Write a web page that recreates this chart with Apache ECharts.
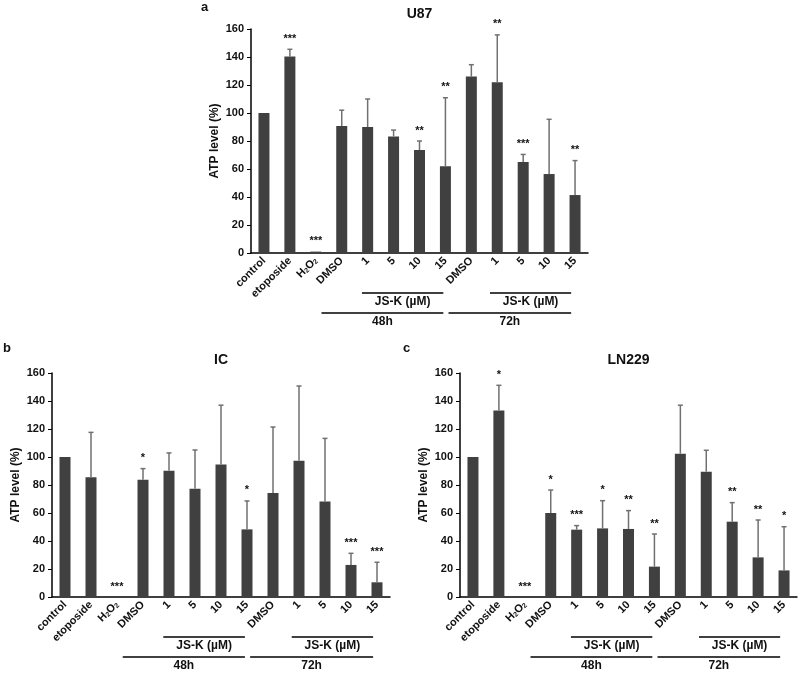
<!DOCTYPE html>
<html>
<head>
<meta charset="utf-8">
<script src="https://cdn.jsdelivr.net/npm/echarts@6/dist/echarts.min.js"></script>
<style>
html,body{margin:0;padding:0;background:#fff;}
#chart{width:798px;height:674px;}
</style>
</head>
<body>
<div id="chart"></div>
<script>
// ---- data ----
const categories = ['control','etoposide','H2O2','DMSO','1','5','10','15','DMSO','1','5','10','15'];
const yTicks = [0, 20, 40, 60, 80, 100, 120, 140, 160];

const u87Mean = [100, 140.4, 1, 90.7, 90, 83.3, 73.5, 62, 126, 122, 65, 56.4, 41.4];
const u87Sd   = [0, 5.1, 0, 11.3, 20, 4.5, 6.5, 48.9, 8.5, 33.8, 5.4, 39.1, 24.6];
const u87Stars = ['', '***', '***', '', '', '', '**', '**', '', '**', '***', '', '**'];

const icMean = [100, 85.5, 0, 83.8, 90.2, 77.4, 94.6, 48.3, 74.3, 97.4, 68.3, 22.9, 10.5];
const icSd   = [0, 32.1, 0, 7.9, 12.7, 27.6, 42.4, 20.3, 47.1, 53.3, 45, 8.3, 14.3];
const icStars = ['', '', '***', '*', '', '', '', '*', '', '', '', '***', '***'];

const lnMean = [100, 133.3, 0, 60, 48.1, 49, 48.6, 21.7, 102.4, 89.5, 53.8, 28.3, 19];
const lnSd   = [0, 17.9, 0, 16.4, 2.9, 19.8, 13.1, 23.3, 34.6, 15.3, 13.6, 26.7, 31.2];
const lnStars = ['', '*', '***', '*', '***', '*', '**', '**', '', '', '**', '**', '*'];

const panelTitles = ['U87', 'IC', 'LN229'];
const panelLetters = ['a', 'b', 'c'];
const groupLabels = ['JS-K (\u00b5M)', '48h', '72h'];

// ---- layout ----
const FONT = '"Liberation Sans", Arial, sans-serif';
const grids = [
  {left: 251, top: 29, width: 337, height: 224},
  {left: 52, top: 373, width: 338, height: 224},
  {left: 460, top: 373, width: 337, height: 224}
];
const titleOffsets = [22, 20, 20];
const letterPos = [[201, 1], [3, 342], [403, 342]];
const panels = [
  {mean: u87Mean, sd: u87Sd, stars: u87Stars},
  {mean: icMean, sd: icSd, stars: icStars},
  {mean: lnMean, sd: lnSd, stars: lnStars}
];
const BAR = '#404040';
const ERR = '#707070';

const chart = echarts.init(document.getElementById('chart'), null, {renderer: 'canvas'});

function xLabelFormatter(v) {
  if (v === 'H2O2') return 'H{sub|2}O{sub|2}';
  return v;
}

const option = {
  animation: false,
  backgroundColor: '#fff',
  textStyle: {fontFamily: FONT},
  title: panelTitles.map((t, k) => ({
    text: t,
    left: grids[k].left + grids[k].width / 2,
    top: grids[k].top - titleOffsets[k],
    padding: 0,
    textAlign: 'center',
    textStyle: {fontSize: 14, fontWeight: 'bold', color: '#111', fontFamily: FONT}
  })),
  grid: grids.map(g => Object.assign({containLabel: false}, g)),
  xAxis: grids.map((g, k) => ({
    type: 'category',
    gridIndex: k,
    data: categories,
    boundaryGap: true,
    axisLine: {lineStyle: {color: '#000', width: 1.5}},
    axisTick: {alignWithLabel: true, length: 3, lineStyle: {color: '#000'}},
    axisLabel: {
      interval: 0, rotate: 45, margin: 6,
      fontSize: 11, fontWeight: 'bold', color: '#111', fontFamily: FONT,
      formatter: xLabelFormatter,
      rich: {sub: {fontSize: 7, fontWeight: 'bold', verticalAlign: 'bottom', padding: [4, 0, 0, 0], fontFamily: FONT}}
    },
    splitLine: {show: false}
  })),
  yAxis: grids.map((g, k) => ({
    type: 'value',
    gridIndex: k,
    min: yTicks[0], max: yTicks[yTicks.length - 1], interval: yTicks[1] - yTicks[0],
    name: 'ATP level (%)',
    nameLocation: 'middle',
    nameGap: 30,
    nameTextStyle: {fontSize: 12, fontWeight: 'bold', color: '#111', fontFamily: FONT},
    axisLine: {show: true, lineStyle: {color: '#000', width: 1.5}},
    axisTick: {show: true, length: 4, lineStyle: {color: '#000'}},
    axisLabel: {fontSize: 11, fontWeight: 'bold', color: '#111', margin: 7, fontFamily: FONT},
    splitLine: {show: false}
  })),
  series: []
};

panels.forEach((p, k) => {
  option.series.push({
    type: 'bar',
    xAxisIndex: k, yAxisIndex: k,
    data: p.mean,
    barWidth: 11,
    itemStyle: {color: BAR},
    z: 2
  });
  option.series.push({
    type: 'custom',
    xAxisIndex: k, yAxisIndex: k,
    data: p.mean.map((m, i) => [i, m, p.sd[i]]),
    z: 3,
    renderItem: function (params, api) {
      const i = api.value(0), m = api.value(1), sd = api.value(2);
      const base = api.coord([i, m]);
      const top = api.coord([i, m + sd]);
      const children = [];
      if (sd > 0) {
        children.push({type: 'line', shape: {x1: base[0], y1: base[1], x2: top[0], y2: top[1]},
          style: {stroke: ERR, lineWidth: 1.5}});
        children.push({type: 'line', shape: {x1: top[0] - 2.5, y1: top[1], x2: top[0] + 2.5, y2: top[1]},
          style: {stroke: ERR, lineWidth: 1.5}});
      }
      const star = p.stars[params.dataIndex];
      if (star) {
        children.push({type: 'text', x: top[0], y: top[1] - 5,
          style: {text: star, fill: '#111', font: 'bold 11px ' + FONT, textAlign: 'center', textVerticalAlign: 'bottom'}});
      }
      return {type: 'group', children: children};
    }
  });
});

chart.setOption(option);

// ---- group annotation lines under the axes, positioned from the category scale ----
function buildGraphics() {
  const els = [];
  grids.forEach((g, k) => {
    const p0 = chart.convertToPixel({gridIndex: k}, [0, 0]);
    const p1 = chart.convertToPixel({gridIndex: k}, [1, 0]);
    const cw = p1[0] - p0[0];
    const x = (idx) => p0[0] + idx * cw;
    const y0 = p0[1];
    const segs = [
      {from: 4 - 0.22, to: 7 - 0.08, dy: 40, label: groupLabels[0]},
      {from: 3 - 0.78, to: 7 - 0.08, dy: 60, label: groupLabels[1]},
      {from: 9 - 0.28, to: 12 - 0.15, dy: 40, label: groupLabels[0]},
      {from: 8 - 0.88, to: 12 - 0.15, dy: 60, label: groupLabels[2]}
    ];
    segs.forEach(s => {
      els.push({type: 'line', shape: {x1: x(s.from), y1: y0 + s.dy, x2: x(s.to), y2: y0 + s.dy},
        style: {stroke: '#000', lineWidth: 1.3}, silent: true});
      els.push({type: 'text', x: (x(s.from) + x(s.to)) / 2, y: y0 + s.dy + 3,
        style: {text: s.label, fill: '#111', font: 'bold 12px ' + FONT, textAlign: 'center', textVerticalAlign: 'top'}, silent: true});
    });
    els.push({type: 'text', x: letterPos[k][0], y: letterPos[k][1],
      style: {text: panelLetters[k], fill: '#111', font: 'bold 13px ' + FONT, textAlign: 'left', textVerticalAlign: 'top'}, silent: true});
  });
  chart.setOption({graphic: els});
}
buildGraphics();
</script>
</body>
</html>
